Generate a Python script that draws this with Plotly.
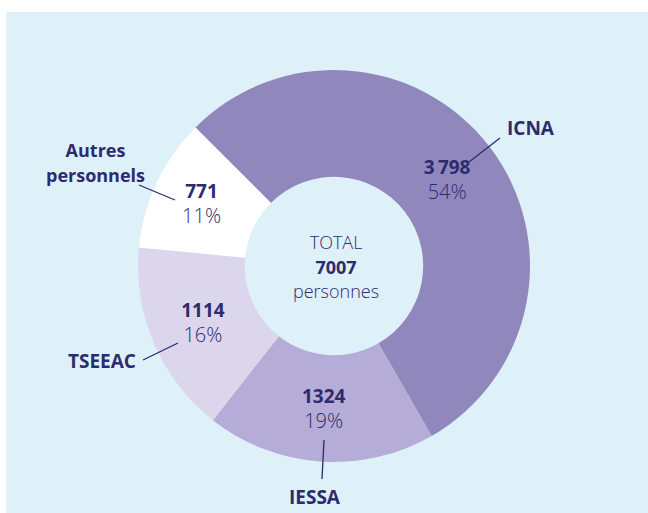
import plotly.graph_objects as go

# Data
categories = ["ICNA", "IESSA", "TSEEAC", "Autres personnels"]
values = [3798, 1324, 1114, 771]
value_labels = ["3\u2009798", "1324", "1114", "771"]
total_label = "7007"
colors = ["#9088bd", "#b5acd7", "#dcd6ec", "#ffffff"]

W, H = 648, 513
navy = "#2d2b6f"
font_family = "'Open Sans', Lato, sans-serif"

def px(x):
    return x / W

def py(y):
    return 1 - y / H

cx, cy, R = 334, 266, 196

fig = go.Figure(go.Pie(
    labels=categories,
    values=values,
    text=value_labels,
    texttemplate="<b>%{text}</b><br><span style='font-size:20px'>%{percent:.0%}</span>",
    textposition="inside",
    insidetextorientation="horizontal",
    insidetextfont=dict(family=font_family, size=19, color=navy, weight=300),
    hole=0.455,
    sort=False,
    direction="clockwise",
    rotation=-45,
    marker=dict(colors=colors, line=dict(width=0)),
    showlegend=False,
    hoverinfo="label+value+percent",
    domain=dict(x=[px(cx - R), px(cx + R)], y=[py(cy + R), py(cy - R)]),
))

shapes = [
    dict(type="rect", xref="paper", yref="paper", x0=px(6), x1=1, y0=0, y1=py(12),
         fillcolor="#def0f8", line=dict(width=0), layer="below"),
]
lines = [((469, 162), (500, 138)), ((139, 185), (175, 200)),
         ((143, 360), (178, 343)), ((324, 440), (322, 479))]
for (x0, y0), (x1, y1) in lines:
    shapes.append(dict(type="line", xref="paper", yref="paper",
                       x0=px(x0), y0=py(y0), x1=px(x1), y1=py(y1),
                       line=dict(color=navy, width=1.3)))

big = "font-size:18px"
center_text = (f"<span style='{big}'>TOTAL</span><br>"
               f"<span style='{big}'><b>{total_label}</b></span><br>"
               f"<span style='{big}'>personnes</span>")
bold = dict(family=font_family, size=19, color=navy, weight=700)
annotations = [
    dict(x=px(336), y=py(266), text=center_text,
         font=dict(family=font_family, size=19, color=navy, weight=300)),
    dict(x=px(531), y=py(128), text="<b>ICNA</b>", font=bold),
    dict(x=px(95), y=py(162), text=f"<span style='{big}'><b>Autres</b></span><br><span style='{big}'><b>personnels</b></span>",
         font=dict(family=font_family, size=19, color=navy, weight=700)),
    dict(x=px(102), y=py(361), text="<b>TSEEAC</b>", font=bold),
    dict(x=px(315), y=py(497), text="<b>IESSA</b>", font=bold),
]
for a in annotations:
    a.update(xref="paper", yref="paper", showarrow=False, xanchor="center", yanchor="middle")

fig.update_layout(
    width=W, height=H,
    margin=dict(l=0, r=0, t=0, b=0),
    paper_bgcolor="#ffffff",
    shapes=shapes,
    annotations=annotations,
)

fig.write_html("out.html", config={"displayModeBar": False},
               post_script="document.body.style.margin='0';")
